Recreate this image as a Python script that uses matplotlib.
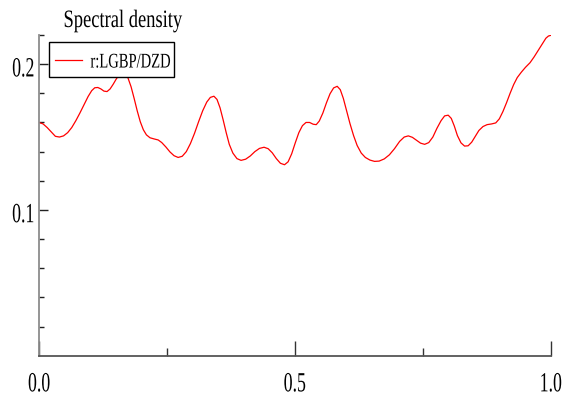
import matplotlib
matplotlib.use("Agg")
import matplotlib.pyplot as plt
from matplotlib.patheffects import AbstractPathEffect
from matplotlib.transforms import Affine2D, ScaledTranslation
from matplotlib.patches import Rectangle
from matplotlib.lines import Line2D

# spectral density curve (normalised frequency vs density)
freq = [0.000, 0.008, 0.016, 0.024, 0.032, 0.040, 0.048, 0.056, 0.064, 0.072,
        0.080, 0.088, 0.096, 0.103, 0.109, 0.115, 0.121, 0.127, 0.133, 0.139,
        0.145, 0.151, 0.157, 0.163, 0.168, 0.174, 0.180, 0.186, 0.192, 0.198,
        0.204, 0.210, 0.217, 0.225, 0.233, 0.240, 0.248, 0.256, 0.264, 0.272,
        0.280, 0.288, 0.296, 0.304, 0.312, 0.320, 0.328, 0.335, 0.342, 0.348,
        0.354, 0.360, 0.366, 0.372, 0.379, 0.387, 0.395, 0.404, 0.413, 0.422,
        0.431, 0.440, 0.448, 0.456, 0.464, 0.472, 0.480, 0.487, 0.494, 0.501,
        0.508, 0.515, 0.522, 0.529, 0.536, 0.542, 0.548, 0.555, 0.562, 0.569,
        0.576, 0.583, 0.589, 0.595, 0.601, 0.608, 0.615, 0.622, 0.630, 0.638,
        0.647, 0.656, 0.665, 0.675, 0.685, 0.695, 0.705, 0.714, 0.722, 0.730,
        0.738, 0.746, 0.754, 0.762, 0.770, 0.778, 0.786, 0.793, 0.800, 0.806,
        0.812, 0.818, 0.825, 0.832, 0.839, 0.846, 0.853, 0.860, 0.868, 0.876,
        0.885, 0.893, 0.900, 0.907, 0.914, 0.921, 0.928, 0.935, 0.943, 0.951,
        0.960, 0.968, 0.976, 0.984, 0.991, 0.996, 1.000]
density = [0.1600, 0.1590, 0.1565, 0.1535, 0.1505, 0.1500, 0.1508, 0.1530, 0.1565, 0.1612,
           0.1665, 0.1722, 0.1778, 0.1818, 0.1838, 0.1840, 0.1830, 0.1815, 0.1812, 0.1830,
           0.1862, 0.1898, 0.1928, 0.1942, 0.1938, 0.1905, 0.1845, 0.1765, 0.1680, 0.1605,
           0.1550, 0.1515, 0.1495, 0.1487, 0.1480, 0.1462, 0.1432, 0.1398, 0.1372, 0.1360,
           0.1368, 0.1400, 0.1455, 0.1525, 0.1605, 0.1680, 0.1740, 0.1772, 0.1780, 0.1758,
           0.1700, 0.1618, 0.1530, 0.1450, 0.1390, 0.1352, 0.1340, 0.1348, 0.1370, 0.1400,
           0.1422, 0.1430, 0.1420, 0.1392, 0.1352, 0.1320, 0.1310, 0.1330, 0.1385, 0.1460,
           0.1530, 0.1578, 0.1600, 0.1600, 0.1588, 0.1585, 0.1610, 0.1665, 0.1735, 0.1797,
           0.1837, 0.1848, 0.1825, 0.1765, 0.1685, 0.1592, 0.1510, 0.1442, 0.1390, 0.1360,
           0.1342, 0.1333, 0.1335, 0.1350, 0.1378, 0.1420, 0.1470, 0.1500, 0.1508, 0.1498,
           0.1478, 0.1458, 0.1450, 0.1462, 0.1500, 0.1560, 0.1612, 0.1645, 0.1650, 0.1628,
           0.1575, 0.1510, 0.1460, 0.1438, 0.1440, 0.1465, 0.1505, 0.1545, 0.1572, 0.1585,
           0.1590, 0.1597, 0.1625, 0.1675, 0.1735, 0.1800, 0.1860, 0.1908, 0.1945, 0.1978,
           0.2010, 0.2050, 0.2095, 0.2140, 0.2178, 0.2193, 0.2197]
series_label = "r:LGBP/DZD"
title = "Spectral density"

x_major = [0.0, 0.5, 1.0]
x_labels = ["0.0", "0.5", "1.0"]
x_minor = [0.25, 0.75]
y_major = [0.1, 0.2]
y_labels = ["0.1", "0.2"]
y_minor = [0.02, 0.04, 0.06, 0.08, 0.12, 0.14, 0.16, 0.18, 0.22]


class Squeeze(AbstractPathEffect):
    """Draw text narrower: scale x by sx around anchor (0 left, .5 centre, 1 right)."""

    def __init__(self, sx, anchor=0.5):
        super().__init__()
        self.sx = sx
        self.anchor = anchor

    def draw_path(self, renderer, gc, tpath, affine, rgbFace=None):
        bb = tpath.get_extents(affine)
        cx = bb.x0 + self.anchor * bb.width
        narrow = affine + Affine2D().translate(-cx, 0).scale(self.sx, 1).translate(cx, 0)
        renderer.draw_path(gc, tpath, narrow, rgbFace)


W, H = 567, 403
plt.rcParams["font.family"] = ["Liberation Serif", "DejaVu Serif"]
fig = plt.figure(figsize=(W / 100, H / 100), dpi=100)
ax = fig.add_axes([39 / W, 1 - 355.7 / H, 511.5 / W, 320.7 / H])

line, = ax.plot(freq, density, color="#ff0000", lw=0.9, label=series_label,
                solid_joinstyle="round")

ax.set_xlim(0, 1)
ax.set_ylim(0, 0.22)
for side in ("top", "right"):
    ax.spines[side].set_visible(False)
ax.spines["left"].set_color("#8c8c8c")
ax.spines["bottom"].set_color("#555555")
ax.spines["left"].set_linewidth(1.3)
ax.spines["bottom"].set_linewidth(1.3)

ax.set_xticks(x_major, x_labels)
ax.set_xticks(x_minor, minor=True)
ax.set_yticks(y_major, y_labels)
ax.set_yticks(y_minor, minor=True)
ax.tick_params(axis="x", which="major", direction="in", length=11, width=1, color="#333333",
               pad=12, labelsize=20)
ax.tick_params(axis="x", which="minor", direction="in", length=6, width=1, color="#333333")
ax.tick_params(axis="y", which="major", direction="in", length=6.5, width=1, color="#222222",
               pad=3, labelsize=20)
ax.tick_params(axis="y", which="minor", direction="in", length=3.6, width=1, color="#222222")

for lab in ax.get_xticklabels():
    lab.set_path_effects([Squeeze(0.64)])
down = ScaledTranslation(0, -2 / 72, fig.dpi_scale_trans)
for lab in ax.get_yticklabels():
    lab.set_path_effects([Squeeze(0.64, anchor=1.0)])
    lab.set_transform(lab.get_transform() + down)

# title above the plot, left side
fig.text(122.7 / W, 1 - 27 / H, title, ha="center", va="baseline", fontsize=18,
         path_effects=[Squeeze(0.74)])

# legend box drawn by hand so the narrow text fits the frame
ax.add_patch(Rectangle((48.5 / W, 1 - 76.7 / H), 125 / W, 35 / H, transform=fig.transFigure,
                       facecolor="white", edgecolor="black", lw=1, zorder=5, clip_on=False))
fig.add_artist(Line2D([55 / W, 82 / W], [1 - 60 / H, 1 - 60 / H], color=line.get_color(),
                      lw=line.get_linewidth(), zorder=6))
fig.text(130.8 / W, 1 - 67.5 / H, line.get_label(), ha="center", va="baseline", fontsize=15,
         zorder=6, path_effects=[Squeeze(0.7)])

fig.savefig("out.png", dpi=100)
